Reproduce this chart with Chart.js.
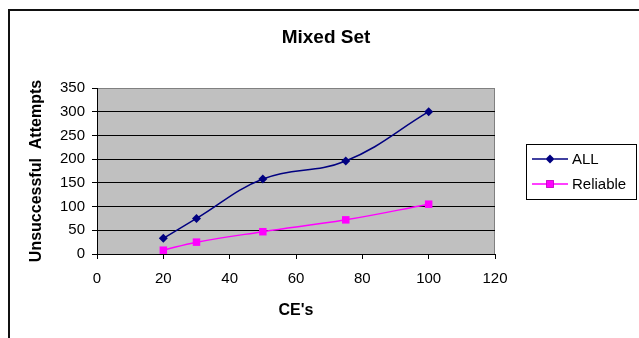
<!DOCTYPE html>
<html>
<head>
<meta charset="utf-8">
<script src="https://cdn.jsdelivr.net/npm/chart.js@4/dist/chart.umd.min.js"></script>
<style>
  html, body { margin: 0; padding: 0; background: #ffffff; }
  #wrap { position: relative; width: 639px; height: 338px; }
</style>
</head>
<body>
<div id="wrap"><canvas id="c" width="639" height="338"></canvas></div>
<script>
// Number of CEs on the x axis
const ces = [20, 30, 50, 75, 100];
// Unsuccessful attempts per series
const allAttempts = [33, 75, 158, 196, 300];
const reliableAttempts = [8, 25, 47, 72, 105];
// Axis tick ranges
const xTicks = [0, 20, 40, 60, 80, 100, 120];
const yTicks = [0, 50, 100, 150, 200, 250, 300, 350];

const chartTitle = 'Mixed Set';
const xTitle = "CE's";
const yTitle = 'Unsuccessful  Attempts';

const FONT = '"Liberation Sans", Arial, sans-serif';

function toPoints(xs, ys) {
  return xs.map((x, i) => ({ x: x, y: ys[i] }));
}

// Outer frame, plot background and chart title
const framePlugin = {
  id: 'frame',
  beforeDraw(chart) {
    const ctx = chart.ctx;
    const a = chart.chartArea;
    ctx.save();
    ctx.fillStyle = '#ffffff';
    ctx.fillRect(0, 0, chart.width, chart.height);
    ctx.fillStyle = '#111111';
    ctx.fillRect(8, 9, 2, chart.height - 9);
    ctx.fillRect(8, 9, chart.width - 8, 2);
    ctx.fillStyle = '#c0c0c0';
    ctx.fillRect(a.left, a.top, a.right - a.left, a.bottom - a.top);
    ctx.strokeStyle = '#808080';
    ctx.lineWidth = 1;
    ctx.strokeRect(a.left + 0.5, a.top + 0.5, a.right - a.left - 1, a.bottom - a.top);
    ctx.fillStyle = '#000000';
    ctx.font = 'bold 19px ' + FONT;
    ctx.textAlign = 'center';
    ctx.textBaseline = 'middle';
    ctx.fillText(chartTitle, 326, 38);
    ctx.restore();
  }
};

// Boxed legend to the right of the plot
const legendPlugin = {
  id: 'boxLegend',
  afterDraw(chart) {
    const ctx = chart.ctx;
    const bx = 526, by = 144, bw = 110, bh = 55;
    ctx.save();
    ctx.fillStyle = '#ffffff';
    ctx.fillRect(bx, by, bw, bh);
    ctx.strokeStyle = '#000000';
    ctx.lineWidth = 1;
    ctx.strokeRect(bx + 0.5, by + 0.5, bw, bh);
    chart.data.datasets.forEach((ds, i) => {
      const y = by + 15 + i * 25;
      ctx.strokeStyle = ds.borderColor;
      ctx.lineWidth = 1.5;
      ctx.beginPath();
      ctx.moveTo(bx + 6, y);
      ctx.lineTo(bx + 42, y);
      ctx.stroke();
      Chart.helpers.drawPoint(ctx, {
        pointStyle: ds.pointStyle,
        radius: ds.pointRadius,
        rotation: 0,
        borderWidth: 0
      }, bx + 24, y);
      ctx.fillStyle = ds.pointBackgroundColor;
      ctx.fill();
      ctx.fillStyle = '#000000';
      ctx.font = '15px ' + FONT;
      ctx.textAlign = 'left';
      ctx.textBaseline = 'middle';
      ctx.fillText(ds.label, bx + 46, y + 1);
    });
    ctx.restore();
  }
};

new Chart(document.getElementById('c'), {
  type: 'line',
  data: {
    datasets: [
      {
        label: 'ALL',
        data: toPoints(ces, allAttempts),
        borderColor: '#000080',
        backgroundColor: '#000080',
        pointBackgroundColor: '#000080',
        pointBorderColor: '#000080',
        pointStyle: 'rectRot',
        pointRadius: 4.5,
        pointBorderWidth: 0,
        borderWidth: 1.5,
        tension: 0.4,
        fill: false
      },
      {
        label: 'Reliable',
        data: toPoints(ces, reliableAttempts),
        borderColor: '#ff00ff',
        backgroundColor: '#ff00ff',
        pointBackgroundColor: '#ff00ff',
        pointBorderColor: '#ff00ff',
        pointStyle: 'rect',
        pointRadius: 5.3,
        pointBorderWidth: 0,
        borderWidth: 1.5,
        tension: 0.4,
        fill: false
      }
    ]
  },
  options: {
    responsive: false,
    animation: false,
    devicePixelRatio: 1,
    layout: { padding: { top: 88, right: 144, bottom: 0, left: 0 } },
    plugins: {
      legend: { display: false },
      title: { display: false },
      tooltip: { enabled: false }
    },
    scales: {
      x: {
        type: 'linear',
        min: xTicks[0],
        max: xTicks[xTicks.length - 1],
        afterBuildTicks(scale) { scale.ticks = xTicks.map(v => ({ value: v })); },
        afterFit(scale) { scale.height = 84; },
        ticks: { color: '#000000', font: { family: FONT, size: 15 }, padding: 11, maxRotation: 0, autoSkip: false },
        grid: { drawOnChartArea: false, drawTicks: true, tickLength: 5, tickColor: '#000000' },
        border: { display: true, color: '#000000', width: 1 },
        title: { display: true, text: xTitle, color: '#000000', font: { family: FONT, size: 16, weight: 'bold' }, padding: { top: 0, bottom: 18 } }
      },
      y: {
        type: 'linear',
        min: yTicks[0],
        max: yTicks[yTicks.length - 1],
        afterBuildTicks(scale) { scale.ticks = yTicks.map(v => ({ value: v })); },
        afterFit(scale) { scale.width = 97; },
        ticks: { color: '#000000', font: { family: FONT, size: 15 }, padding: 7, autoSkip: false },
        grid: {
          drawOnChartArea: true,
          drawTicks: true,
          tickLength: 5,
          tickColor: '#000000',
          color: (c) => (c.tick && c.tick.value === yTicks[yTicks.length - 1]) ? '#808080' : '#000000',
          lineWidth: 1
        },
        border: { display: true, color: '#000000', width: 1 },
        title: { display: true, text: yTitle, color: '#000000', font: { family: FONT, size: 16, weight: 'bold' }, padding: { top: 27, bottom: 0 } }
      }
    }
  },
  plugins: [framePlugin, legendPlugin]
});
</script>
</body>
</html>
